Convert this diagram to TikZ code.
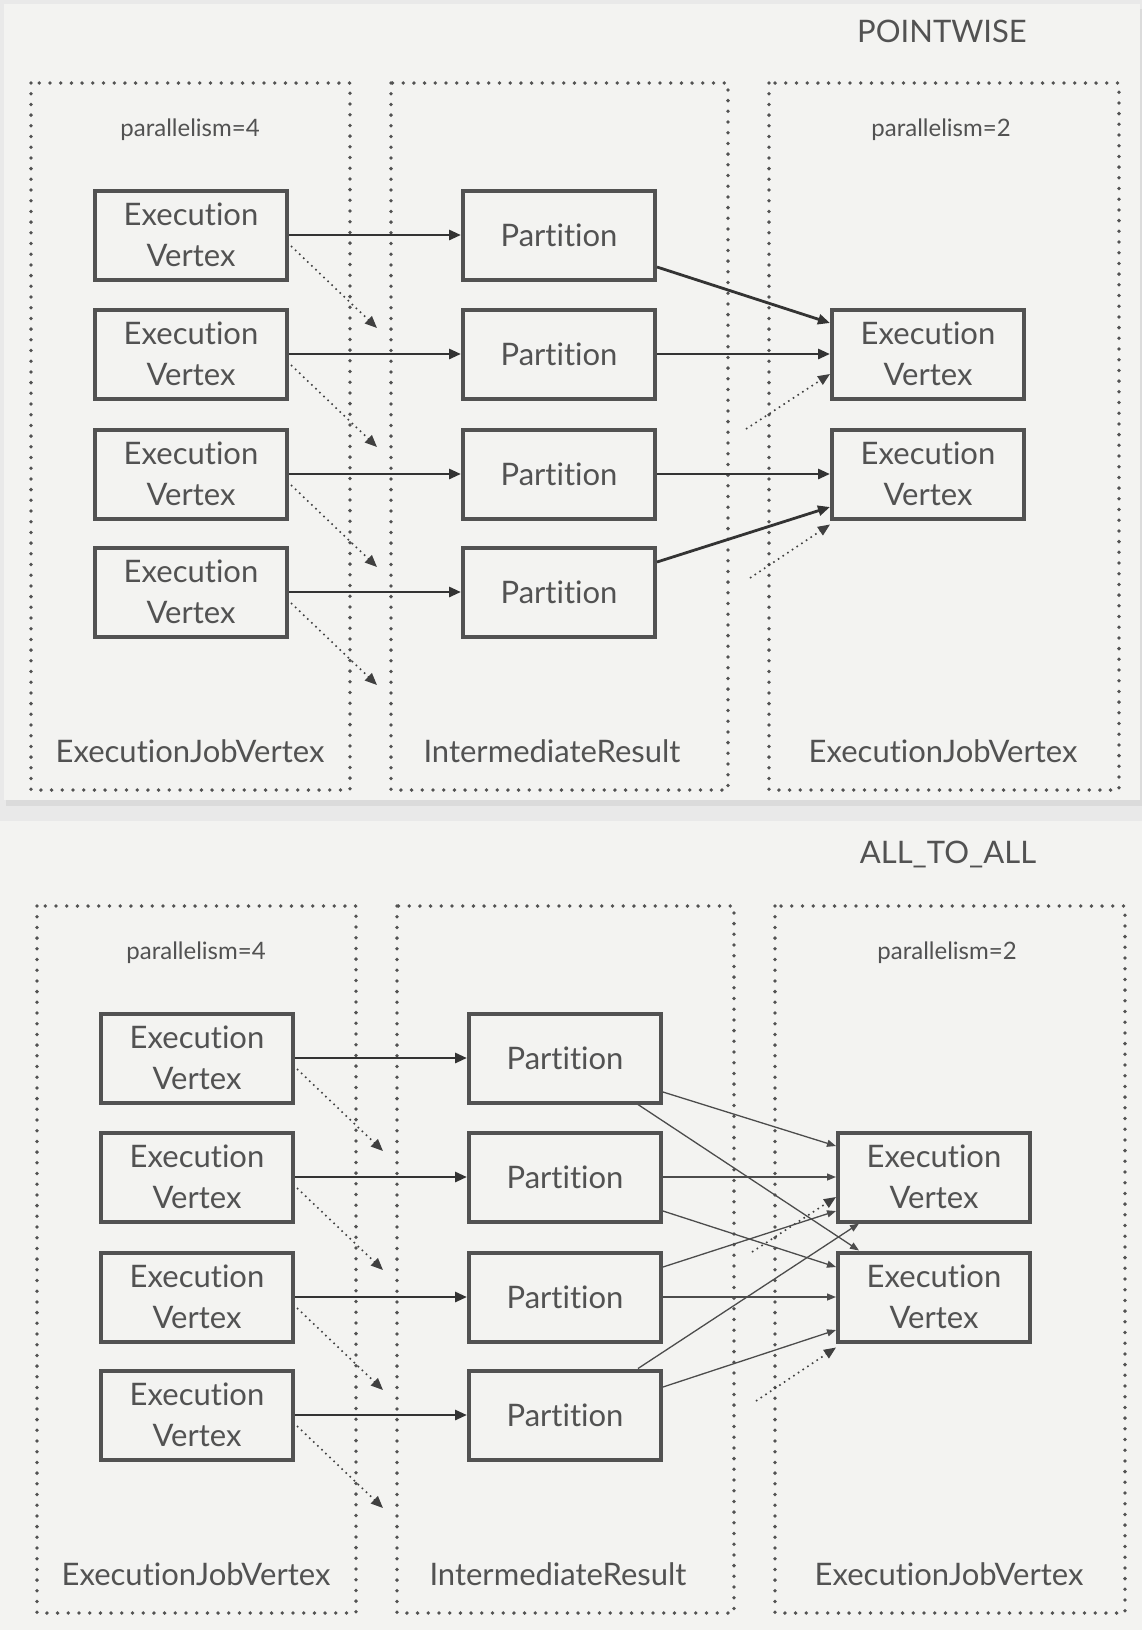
\documentclass[tikz,border=0pt]{standalone}
\usepackage{fontspec}
\setmainfont{Lato}[Ligatures={NoCommon}]
\usepackage{tikz}
\usetikzlibrary{arrows.meta,calc}
\definecolor{inkgrey}{RGB}{82,82,82}
\definecolor{cardbg}{RGB}{243,243,241}
\definecolor{pagebg}{RGB}{233,233,233}

\tikzset{
  vbox/.style={draw=inkgrey, line width=2pt, minimum width=96pt, minimum height=44.5pt,
    inner sep=0pt, align=center, text=inkgrey, font=\fontsize{15.5}{20.5}\selectfont},
  grp/.style={draw=inkgrey, line width=1.9pt, dash pattern=on 0pt off 5.35pt, line cap=round},
  flow/.style={draw=black!80, line width=1.4pt, -{Triangle[length=6pt,width=5pt]}},
  thinflow/.style={draw=black!70, line width=0.65pt, -{Triangle[length=4.5pt,width=3.5pt]}},
  spill/.style={draw=black!75, line width=0.8pt, dotted, -{Triangle[length=6pt,width=5pt]}},
  grplbl/.style={text=inkgrey, font=\fontsize{15.5}{18}\selectfont},
  parlbl/.style={text=inkgrey, font=\fontsize{12}{14}\selectfont},
}

\begin{document}
\begin{tikzpicture}[x=0.5pt, y=-0.5pt]
  \useasboundingbox (0,0) rectangle (1142,1630);
  % cards
  \fill[pagebg] (0,0) rectangle (1142,1630);
  \fill[black!14] (6,9) rectangle (1142,806);
  \fill[cardbg] (4,4) rectangle (1140,800);
  \fill[cardbg] (0,821) rectangle (1142,1630);

  % parts both panels share
  \foreach \pn/\dx/\dy/\title in {pw/0/0/POINTWISE, aa/6/823/ALL\_TO\_ALL} {
    \begin{scope}[shift={(\dx,\dy)}]
      \node[grplbl] (\pn-title) at (942,31) {\title};
      \draw[grp] (31,83) rectangle (350,790);
      \draw[grp] (391,83) rectangle (728,790);
      \draw[grp] (769,83) rectangle (1119,790);
      \node[parlbl] (\pn-par4) at (190,130) {parallelism=4};
      \node[parlbl] (\pn-par2) at (941,130) {parallelism=2};
      \node[grplbl] (\pn-jv1) at (190,751) {ExecutionJobVertex};
      \node[grplbl] (\pn-ir) at (552,751) {IntermediateResult};
      \node[grplbl] (\pn-jv2) at (943,751) {ExecutionJobVertex};
      \foreach \i/\y in {1/235,2/354,3/474,4/592} {
        \node[vbox] (\pn-ev\i) at (191,\y) {Execution\\Vertex};
        \node[vbox] (\pn-pt\i) at (559,\y) {Partition};
        \coordinate (\pn-out\i) at (377,\y+93);
        \draw[flow] (\pn-ev\i.east) -- (\pn-pt\i.west);
        \draw[spill] ($(\pn-ev\i.east)+(2,11)$) -- (\pn-out\i);
      }
      \node[vbox] (\pn-rv1) at (928,354) {Execution\\Vertex};
      \node[vbox] (\pn-rv2) at (928,474) {Execution\\Vertex};
      \coordinate (\pn-in1) at (746,429);
      \coordinate (\pn-in2) at (750,578);
      \draw[spill] (\pn-in1) -- ($(\pn-rv1.west)+(0,20)$);
      \draw[spill] (\pn-in2) -- ($(\pn-rv2.south west)+(0,4)$);
    \end{scope}
  }

  % POINTWISE
  \draw[flow] ($(pw-pt1.east)+(0,32)$) -- ($(pw-rv1.west)+(0,-31)$);
  \draw[flow] (pw-pt2.east) -- (pw-rv1.west);
  \draw[flow] (pw-pt3.east) -- (pw-rv2.west);
  \draw[flow] ($(pw-pt4.east)+(0,-30)$) -- ($(pw-rv2.west)+(0,33)$);

  % ALL_TO_ALL
  \draw[thinflow] ($(aa-pt1.east)+(0,34)$) -- ($(aa-rv1.west)+(0,-31)$);
  \draw[thinflow] ($(aa-pt1.south east)+(-25,0)$) -- ($(aa-rv2.north west)+(23,0)$);
  \draw[thinflow] (aa-pt2.east) -- (aa-rv1.west);
  \draw[thinflow] ($(aa-pt2.east)+(0,34)$) -- ($(aa-rv2.west)+(0,-30)$);
  \draw[thinflow] ($(aa-pt3.east)+(0,-30)$) -- ($(aa-rv1.west)+(0,34)$);
  \draw[thinflow] (aa-pt3.east) -- (aa-rv2.west);
  \draw[thinflow] ($(aa-pt4.north east)+(-25,0)$) -- ($(aa-rv1.south west)+(23,0)$);
  \draw[thinflow] ($(aa-pt4.east)+(0,-28)$) -- ($(aa-rv2.west)+(0,33)$);
\end{tikzpicture}
\end{document}
